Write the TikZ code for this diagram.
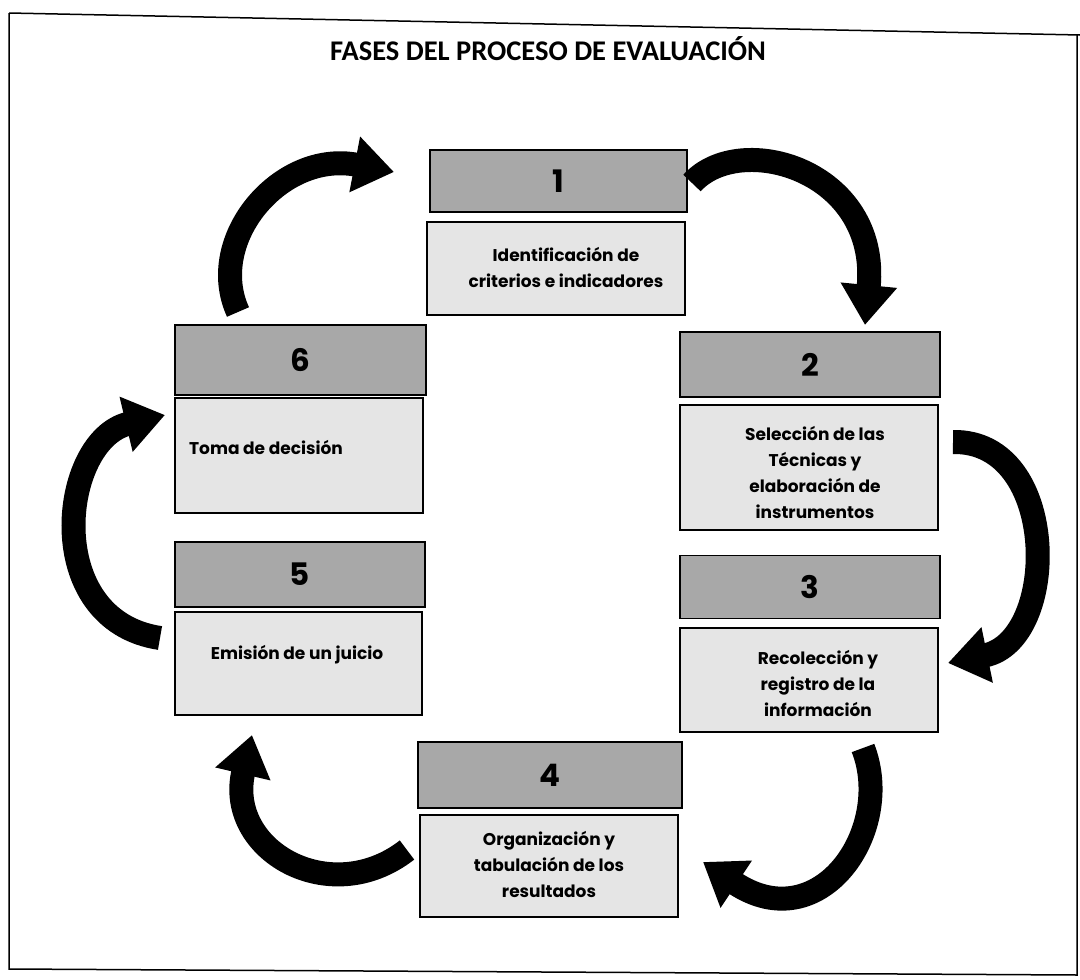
\documentclass[tikz,border=0pt]{standalone}
\usepackage{fontspec}
\usetikzlibrary{arrows.meta}
\newfontfamily\titlefont{Carlito}
\newfontfamily\boxfont{Poppins}
\tikzset{
  hdr/.style={draw=black, line width=1.3pt, fill=black!34, inner sep=0pt, outer sep=0pt,
    font=\boxfont\bfseries\fontsize{31}{31}\selectfont},
  txtbox/.style={draw=black, line width=1.1pt, fill=black!10, inner sep=0pt, outer sep=0pt},
  lbl/.style={align=center, inner sep=0pt, font=\boxfont\bfseries\fontsize{17}{26}\selectfont},
  bigarrow/.style={line width=24pt, -{Triangle[length=40pt,width=54pt]}},
}
\begin{document}
\begin{tikzpicture}[x=1pt,y=-1pt]
\useasboundingbox (0,0) rectangle (1080,980);
% frame
\draw[line width=1.5pt] (9,13) -- (1080,35);
\draw[line width=1.5pt] (9,13) -- (9,969) -- (1077,975) -- (1077,35);
% title
\node[font=\titlefont\bfseries\fontsize{28.5}{28.5}\selectfont] (title) at (548,49) {FASES DEL PROCESO DE EVALUACIÓN};
% box 1
\node[hdr, minimum width=257pt, minimum height=62pt] (h1) at (558.5,181) {1};
\node[txtbox, minimum width=258pt, minimum height=93pt] (t1) at (556,268.5) {};
\node[lbl] (l1) at (566,267) {Identificación de\\criterios e indicadores};
% box 2
\node[hdr, minimum width=260pt, minimum height=65pt] (h2) at (810,364.5) {2};
\node[txtbox, minimum width=258pt, minimum height=125pt] (t2) at (809,467.5) {};
\node[lbl] (l2) at (815,472) {Selección de las\\Técnicas y\\elaboración de\\instrumentos};
% box 3
\node[hdr, minimum width=260pt, minimum height=63pt] (h3) at (810,587) {3};
\node[txtbox, minimum width=258pt, minimum height=104pt] (t3) at (809,680) {};
\node[lbl] (l3) at (818,683) {Recolección y\\registro de la\\información};
% box 4
\node[hdr, minimum width=264pt, minimum height=66pt] (h4) at (550,775) {4};
\node[txtbox, minimum width=258pt, minimum height=102pt] (t4) at (549,866) {};
\node[lbl] (l4) at (549,864) {Organización y\\tabulación de los\\resultados};
% box 5
\node[hdr, minimum width=250pt, minimum height=65pt] (h5) at (300,574.5) {5};
\node[txtbox, minimum width=247pt, minimum height=103pt] (t5) at (298.5,663.5) {};
\node[lbl] (l5) at (297,655) {Emisión de un juicio};
% box 6
\node[hdr, minimum width=251pt, minimum height=70pt] (h6) at (300.5,360) {6};
\node[txtbox, minimum width=248pt, minimum height=115pt] (t6) at (299,455.5) {};
\node[lbl] (l6) at (266,447) {Toma de decisión};
% arrows
\coordinate (a6s) at (238,312);
\coordinate (a6e) at (394,172);
\draw[bigarrow] (a6s) .. controls (205,240) and (280,150) .. (a6e);
\coordinate (a1s) at (692,183);
\coordinate (a1e) at (865,325);
\draw[bigarrow] (a1s) .. controls (740,130) and (880,170) .. (a1e);
\coordinate (a2s) at (953,442);
\coordinate (a2e) at (948,663);
\draw[bigarrow] (a2s) .. controls (1060,440) and (1060,640) .. (a2e);
\coordinate (a3s) at (863,748);
\coordinate (a3e) at (703,862);
\draw[bigarrow] (a3s) .. controls (895,830) and (820,940) .. (a3e);
\coordinate (a4s) at (407,850);
\coordinate (a4e) at (252,735);
\draw[bigarrow] (a4s) .. controls (330,910) and (225,850) .. (a4e);
\coordinate (a5s) at (160,638);
\coordinate (a5e) at (165,415);
\draw[bigarrow] (a5s) .. controls (40,620) and (60,440) .. (a5e);
\end{tikzpicture}
\end{document}
